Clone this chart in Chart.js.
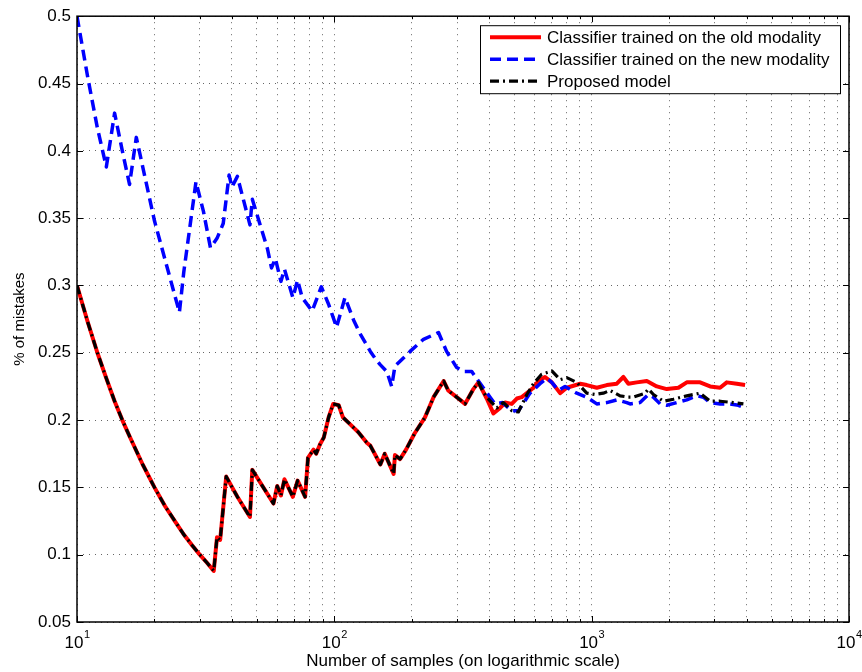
<!DOCTYPE html>
<html>
<head>
<meta charset="utf-8">
<script src="https://cdn.jsdelivr.net/npm/chart.js@4.4.1/dist/chart.umd.min.js"></script>
<style>
  html, body { margin: 0; padding: 0; background: #fff; }
  canvas { display: block; }
</style>
</head>
<body>
<canvas id="chart" width="862" height="672"></canvas>
<script>
const FONT = "'Liberation Sans', Arial, Helvetica, sans-serif";

// Classifier trained on the old modality (red, solid)
const oldN   = [10, 11, 12, 13, 14, 15, 16, 18, 20, 22, 24, 26, 28, 30, 32, 34, 35, 36, 38, 42, 47, 48, 58, 60, 62, 64, 69, 72, 77, 79,
                83, 85, 88, 91, 95, 99, 104, 108, 115, 124, 134, 138, 151, 157, 170, 172, 180, 190, 205, 225, 243, 266, 277, 299, 322, 347, 363,
                391, 415, 441, 461, 489, 512, 535, 560, 594, 621, 659, 700, 754, 800, 902, 957, 1047, 1145, 1252, 1328, 1389, 1497, 1638,
                1791, 1958, 2173, 2342, 2638, 2886, 3155, 3350, 3664, 3946];
const oldErr = [0.300, 0.273, 0.250, 0.231, 0.214, 0.200, 0.188, 0.167, 0.150, 0.136, 0.125, 0.115, 0.107, 0.100, 0.094, 0.088, 0.113, 0.111, 0.158, 0.143,
                0.128, 0.163, 0.138, 0.151, 0.144, 0.156, 0.143, 0.155, 0.143, 0.172, 0.178, 0.175, 0.182, 0.187, 0.202, 0.212, 0.211, 0.202, 0.197, 0.191,
                0.183, 0.181, 0.167, 0.175, 0.160, 0.174, 0.171, 0.178, 0.190, 0.202, 0.217, 0.229, 0.222, 0.217, 0.212, 0.223, 0.228,
                0.216, 0.205, 0.209, 0.213, 0.212, 0.216, 0.217, 0.220, 0.224, 0.229, 0.232, 0.228, 0.220, 0.224, 0.227, 0.226, 0.224, 0.226, 0.227,
                0.232, 0.227, 0.228, 0.229, 0.225, 0.223, 0.224, 0.228, 0.228, 0.225, 0.224, 0.228, 0.227, 0.226];

// Classifier trained on the new modality (blue, dashed)
const newN   = [10, 11, 12, 13, 14, 15, 16, 17, 20, 25, 26, 29, 31, 33, 35, 37, 39, 40, 42, 47, 48, 55, 57, 59, 62, 64, 69, 72, 75, 82, 89,
                95, 102, 110, 119, 126, 138, 145, 151, 160, 167, 172, 197, 222, 254, 273, 299, 320, 342, 360, 403, 421, 450, 489, 520, 576, 630,
                669, 700, 742, 788, 875, 957, 1047, 1145, 1252, 1369, 1410, 1542, 1662, 1738, 1845, 1958, 2141, 2342, 2562, 2718, 2886,
                3155, 3451, 3716, 3946];
const newErr = [0.500, 0.455, 0.417, 0.388, 0.428, 0.400, 0.375, 0.410, 0.348, 0.280, 0.310, 0.377, 0.355, 0.328, 0.335, 0.346, 0.382, 0.373, 0.381, 0.345, 0.364,
                0.327, 0.313, 0.320, 0.303, 0.312, 0.291, 0.304, 0.291, 0.281, 0.299, 0.286, 0.269, 0.291, 0.274, 0.264, 0.251, 0.245, 0.241, 0.236, 0.225, 0.240,
                0.251, 0.260, 0.265, 0.251, 0.239, 0.236, 0.236, 0.230, 0.217, 0.212, 0.213, 0.207, 0.207, 0.220, 0.227,
                0.231, 0.228, 0.222, 0.225, 0.220, 0.217, 0.212, 0.213, 0.215, 0.213, 0.212, 0.213, 0.219, 0.217, 0.212, 0.211, 0.213, 0.215, 0.218, 0.217, 0.213,
                0.212, 0.212, 0.211, 0.209];

// Proposed model (black, dash-dot) - follows the old classifier early on
const propN   = [10, 11, 12, 13, 14, 15, 16, 18, 20, 22, 24, 26, 28, 30, 32, 34, 35, 36, 38, 42, 47, 48, 58, 60, 62, 64, 69, 72, 77, 79,
                 83, 85, 88, 91, 95, 99, 104, 108, 115, 124, 134, 138, 151, 157, 170, 172, 180, 190, 205, 225, 243, 266, 277, 299, 322, 347, 363,
                 374, 391, 428, 454, 489, 519, 560, 594, 639, 700, 754, 800, 875, 957, 1031, 1110, 1179, 1290, 1389, 1452, 1613, 1662, 1738,
                 1900, 2078, 2342, 2638, 2886, 3155, 3553, 3887];
const propErr = [0.300, 0.273, 0.250, 0.231, 0.214, 0.200, 0.188, 0.167, 0.150, 0.136, 0.125, 0.115, 0.107, 0.100, 0.094, 0.088, 0.113, 0.111, 0.158, 0.143,
                 0.128, 0.163, 0.138, 0.151, 0.144, 0.156, 0.143, 0.155, 0.143, 0.172, 0.178, 0.175, 0.182, 0.187, 0.202, 0.212, 0.211, 0.202, 0.197, 0.191,
                 0.183, 0.181, 0.167, 0.175, 0.160, 0.174, 0.171, 0.178, 0.190, 0.202, 0.217, 0.229, 0.222, 0.217, 0.212, 0.223, 0.228,
                 0.223, 0.217, 0.209, 0.213, 0.207, 0.206, 0.219, 0.227, 0.234, 0.2365, 0.230, 0.2315, 0.228, 0.220, 0.219, 0.220, 0.222, 0.218, 0.217,
                 0.217, 0.220, 0.223, 0.219, 0.214, 0.2155, 0.218, 0.220, 0.214, 0.214, 0.213, 0.212];

const yTickValues = [0.05, 0.1, 0.15, 0.2, 0.25, 0.3, 0.35, 0.4, 0.45, 0.5];
const xDecades    = [10, 100, 1000, 10000];
const xExponents  = ['1', '2', '3', '4'];
const seriesNames = ['Classifier trained on the old modality', 'Classifier trained on the new modality', 'Proposed model'];

// 2..9 minor grid positions within each decade
const xGridValues = [];
xDecades.forEach((d, i) => {
    if (i === xDecades.length - 1) { xGridValues.push(d); return; }
    for (let m = 1; m < 10; m++) xGridValues.push(d * m);
});

const toPoints = (xs, ys) => xs.map((x, i) => ({ x, y: ys[i] }));

const matlabAxes = {
    id: 'matlabAxes',
    afterDraw(chart) {
        const { ctx, chartArea: a, scales: { x, y } } = chart;
        ctx.save();

        // tick marks, inside the box on all four sides
        ctx.strokeStyle = '#000';
        ctx.lineWidth = 1;
        ctx.beginPath();
        xGridValues.forEach(v => {
            const px = Math.round(x.getPixelForValue(v)) + 0.5;
            const len = xDecades.includes(v) ? 6 : 3;
            ctx.moveTo(px, a.bottom); ctx.lineTo(px, a.bottom - len);
            ctx.moveTo(px, a.top);    ctx.lineTo(px, a.top + len);
        });
        yTickValues.forEach(v => {
            const py = Math.round(y.getPixelForValue(v)) + 0.5;
            ctx.moveTo(a.left, py);  ctx.lineTo(a.left + 6, py);
            ctx.moveTo(a.right, py); ctx.lineTo(a.right - 6, py);
        });
        ctx.stroke();

        // box
        ctx.lineWidth = 1.5;
        ctx.strokeRect(a.left, a.top, a.right - a.left, a.bottom - a.top);

        // x tick labels as 10^k
        ctx.fillStyle = '#000';
        ctx.textAlign = 'left';
        ctx.textBaseline = 'alphabetic';
        xDecades.forEach((v, i) => {
            const px = x.getPixelForValue(v);
            ctx.font = `17px ${FONT}`;
            const wb = ctx.measureText('10').width;
            ctx.font = `11px ${FONT}`;
            const we = ctx.measureText(xExponents[i]).width;
            const start = px - (wb + we) / 2;
            ctx.font = `17px ${FONT}`;
            ctx.fillText('10', start, 648);
            ctx.font = `11px ${FONT}`;
            ctx.fillText(xExponents[i], start + wb + 0.5, 638);
        });

        // legend box in the upper right corner
        const right = a.right - 9, left = right - 360, top = a.top + 9, bottom = top + 68;
        ctx.fillStyle = '#fff';
        ctx.fillRect(left, top, right - left, bottom - top);
        ctx.strokeStyle = '#000';
        ctx.lineWidth = 1;
        ctx.strokeRect(left + 0.5, top + 0.5, right - left, bottom - top);

        ctx.font = `17px ${FONT}`;
        ctx.textBaseline = 'middle';
        chart.data.datasets.forEach((ds, i) => {
            const ry = top + 12 + i * 22;
            ctx.save();
            ctx.strokeStyle = ds.borderColor;
            ctx.lineWidth = ds.borderWidth;
            ctx.setLineDash(ds.borderDash || []);
            ctx.beginPath();
            ctx.moveTo(left + 10, ry);
            ctx.lineTo(left + 61, ry);
            ctx.stroke();
            ctx.restore();
            ctx.fillStyle = '#000';
            ctx.fillText(seriesNames[i], left + 67, ry + 1);
        });

        ctx.restore();
    },
};

new Chart(document.getElementById('chart'), {
    type: 'line',
    data: {
        datasets: [
            {
                label: seriesNames[0],
                data: toPoints(oldN, oldErr),
                borderColor: '#ff0000',
                borderWidth: 4,
                borderJoinStyle: 'round',
                pointRadius: 0,
                tension: 0,
                order: 3,
            },
            {
                label: seriesNames[1],
                data: toPoints(newN, newErr),
                borderColor: '#0000ff',
                borderWidth: 3.5,
                borderDash: [11, 6],
                borderJoinStyle: 'round',
                pointRadius: 0,
                tension: 0,
                order: 2,
            },
            {
                label: seriesNames[2],
                data: toPoints(propN, propErr),
                borderColor: '#000000',
                borderWidth: 3.2,
                borderDash: [9, 4, 2, 4],
                borderJoinStyle: 'round',
                pointRadius: 0,
                tension: 0,
                order: 1,
            },
        ],
    },
    options: {
        responsive: false,
        animation: false,
        layout: { padding: { top: 14, right: 13, left: 0, bottom: 0 } },
        plugins: {
            legend: { display: false },
            tooltip: { enabled: false },
        },
        scales: {
            x: {
                type: 'logarithmic',
                min: 10,
                max: 10000,
                afterBuildTicks: s => { s.ticks = xGridValues.map(v => ({ value: v })); },
                afterFit: s => { s.height = 50; },
                ticks: { display: false },
                grid: { color: 'rgba(0,0,0,0.6)', lineWidth: 1, drawTicks: false },
                border: { display: false, dash: [1, 5] },
                title: {
                    display: true,
                    text: 'Number of samples (on logarithmic scale)',
                    color: '#000',
                    font: { family: FONT, size: 17 },
                    padding: { top: 0, bottom: 0 },
                },
            },
            y: {
                min: 0.05,
                max: 0.5,
                afterBuildTicks: s => { s.ticks = yTickValues.map(v => ({ value: v })); },
                afterFit: s => { s.width = 77; },
                ticks: {
                    autoSkip: false,
                    padding: 6,
                    color: '#000',
                    font: { family: FONT, size: 17 },
                    callback: v => String(+v.toFixed(2)),
                },
                grid: { color: 'rgba(0,0,0,0.6)', lineWidth: 1, drawTicks: false },
                border: { display: false, dash: [1, 5] },
                title: {
                    display: true,
                    text: '% of mistakes',
                    color: '#000',
                    font: { family: FONT, size: 15 },
                    padding: { top: 11, bottom: 0 },
                },
            },
        },
    },
    plugins: [matlabAxes],
});
</script>
</body>
</html>
